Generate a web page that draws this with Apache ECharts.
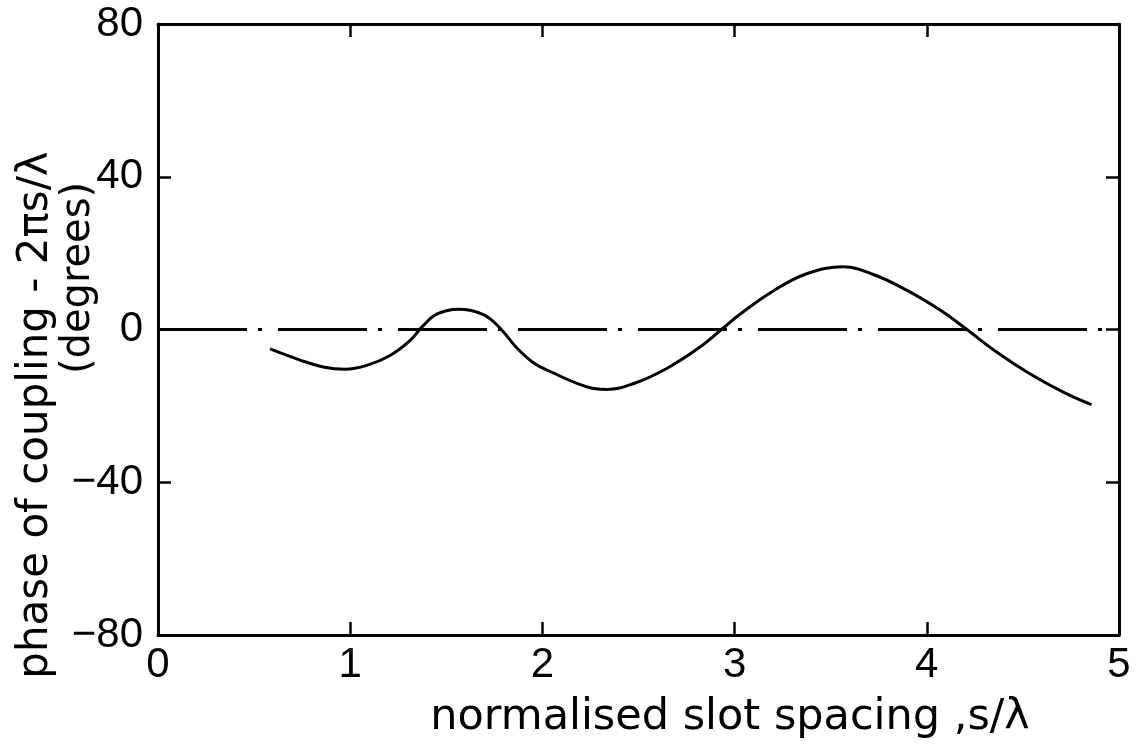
<!DOCTYPE html>
<html>
<head>
<meta charset="utf-8">
<script src="https://cdn.jsdelivr.net/npm/echarts@6/dist/echarts.min.js"></script>
<style>
  html, body { margin: 0; padding: 0; background: #fff; }
  #chart { width: 1142px; height: 745px; }
</style>
</head>
<body>
<div id="chart"></div>
<script>
// Normalised slot spacing s/λ and phase of coupling minus 2πs/λ (degrees)
const spacing = [0.583, 0.739, 0.860, 0.973, 1.086, 1.207, 1.311, 1.380, 1.450, 1.562,
                 1.693, 1.779, 1.866, 1.953, 2.040, 2.230, 2.335, 2.473, 2.647, 2.820,
                 2.941, 3.028, 3.201, 3.375, 3.566, 3.722, 3.895, 4.069, 4.190, 4.363,
                 4.536, 4.710, 4.857];
const phase   = [-5.1, -8.0, -9.8, -10.4, -9.4, -6.8, -2.9, 1.0, 4.0, 5.3,
                 3.9, 0.4, -4.8, -8.7, -11.0, -15.0, -15.7, -14.2, -10.2, -4.6,
                 0.4, 4.0, 10.1, 14.6, 16.4, 14.4, 10.3, 5.1, 0.7, -5.9,
                 -11.6, -16.4, -19.7];

// Zero reference line across the full range
const refX = [0, 5];
const refY = [0, 0];

// Axis ticks
const xTicks = [0, 1, 2, 3, 4, 5];
const yTicks = [-80, -40, 0, 40, 80];
const yTickLabels = ['\u221280', '\u221240', '0', '40', '80'];

const TICK_FONT = 'Liberation Sans';
const TITLE_FONT = 'DejaVu Sans';
const INK = '#000';

const curve = spacing.map((s, i) => [s, phase[i]]);
const ref = refX.map((s, i) => [s, refY[i]]);

// Shared look for the four sides of the frame: heavy line, short inward ticks
function frameAxis(extra) {
  return Object.assign({
    type: 'value',
    axisLine: { show: true, onZero: false, lineStyle: { color: INK, width: 3 } },
    axisTick: { show: true, inside: true, length: 13, lineStyle: { color: INK, width: 2.5 } },
    splitLine: { show: false }
  }, extra);
}

const xMin = xTicks[0], xMax = xTicks[xTicks.length - 1];
const yMin = yTicks[0], yMax = yTicks[yTicks.length - 1];

const chart = echarts.init(document.getElementById('chart'), null, { renderer: 'canvas' });
chart.setOption({
  backgroundColor: '#fff',
  animation: false,
  grid: { left: 158, right: 23, top: 24, bottom: 110 },
  xAxis: [
    frameAxis({
      min: xMin, max: xMax, interval: 1, position: 'bottom',
      axisLabel: { show: true, color: INK, fontFamily: TICK_FONT, fontSize: 42, margin: 9 }
    }),
    frameAxis({
      min: xMin, max: xMax, interval: 1, position: 'top',
      axisLabel: { show: false }
    })
  ],
  yAxis: [
    frameAxis({
      min: yMin, max: yMax, interval: 40, position: 'left',
      axisLabel: {
        show: true, color: INK, fontFamily: TICK_FONT, fontSize: 42, margin: 15,
        formatter: v => yTickLabels[yTicks.indexOf(v)]
      }
    }),
    frameAxis({
      min: yMin, max: yMax, interval: 40, position: 'right',
      axisLabel: { show: false }
    })
  ],
  series: [
    {
      type: 'line', data: ref, symbol: 'none', silent: true,
      lineStyle: { color: INK, width: 3, type: [89, 11, 4, 16] }
    },
    {
      type: 'line', data: curve, symbol: 'none', smooth: 0.4, silent: true,
      lineStyle: { color: INK, width: 3 }
    }
  ],
  graphic: [
    {
      type: 'text', x: 730, y: 718,
      style: {
        text: 'normalised slot spacing ,s/\u03bb',
        fill: INK, fontFamily: TITLE_FONT, fontSize: 43,
        textAlign: 'center', textVerticalAlign: 'middle'
      }
    },
    {
      type: 'text', x: 36, y: 415, rotation: Math.PI / 2,
      style: {
        text: 'phase of coupling - 2\u03c0s/\u03bb',
        fill: INK, fontFamily: TITLE_FONT, fontSize: 42,
        textAlign: 'center', textVerticalAlign: 'middle'
      }
    },
    {
      type: 'text', x: 79, y: 278, rotation: Math.PI / 2,
      style: {
        text: '(degrees)',
        fill: INK, fontFamily: TITLE_FONT, fontSize: 40,
        textAlign: 'center', textVerticalAlign: 'middle'
      }
    }
  ]
});
</script>
</body>
</html>
